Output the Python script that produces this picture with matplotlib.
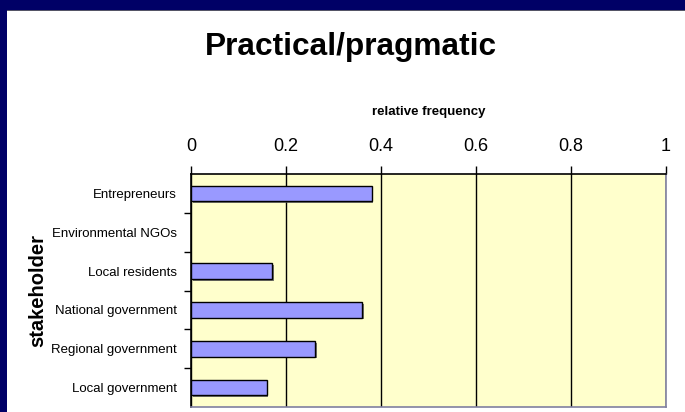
import matplotlib
matplotlib.use('Agg')
import matplotlib.pyplot as plt
import matplotlib.patheffects as pe
from matplotlib.patches import Rectangle

# data (top to bottom)
stakeholders = ['Entrepreneurs', 'Environmental NGOs', 'Local residents',
                'National government', 'Regional government', 'Local government']
rel_freq = [0.38, 0.0, 0.171, 0.36, 0.261, 0.159]
xticks = [0, 0.2, 0.4, 0.6, 0.8, 1]
xtick_labels = ['0', '0.2', '0.4', '0.6', '0.8', '1']

plt.rcParams['font.family'] = ['Liberation Sans', 'DejaVu Sans']

W, H = 685, 412
fig = plt.figure(figsize=(W / 100, H / 100), dpi=100)
fig.patch.set_facecolor('white')

# navy frame on top and left
fig.patches.append(Rectangle((0, 1 - 10 / H), 1, 10 / H, transform=fig.transFigure,
                             facecolor='#000066', edgecolor='none', zorder=0))
fig.patches.append(Rectangle((0, 1 - 11 / H), 1, 1 / H, transform=fig.transFigure,
                             facecolor='#555566', edgecolor='none', zorder=0))
fig.patches.append(Rectangle((0, 0), 7 / W, 1, transform=fig.transFigure,
                             facecolor='#000066', edgecolor='none', zorder=0))

ax = fig.add_axes([191 / W, 5 / H, 475 / W, 233 / H])
ax.set_facecolor('#FFFFCC')

pos = list(range(len(stakeholders)))
lw = [1.0 if v > 0 else 0 for v in rel_freq]
ax.barh(pos, rel_freq, height=0.4, color='#9999FF', edgecolor='black', linewidth=lw,
        zorder=3, path_effects=[pe.SimplePatchShadow(offset=(1.2, -1.2), shadow_rgbFace='#555555', alpha=0.8),
                                pe.Normal()])

ax.set_xlim(0, 1)
ax.set_ylim(len(stakeholders) - 0.5, -0.5)
ax.xaxis.tick_top()
ax.xaxis.set_label_position('top')
ax.set_xticks(xticks)
ax.set_xticklabels(xtick_labels, fontsize=13)
ax.tick_params(axis='x', length=6, width=1, pad=8, color='black')
ax.grid(axis='x', color='black', linewidth=1, zorder=1)

ax.set_yticks(pos)
ax.set_yticklabels(stakeholders, fontsize=9.5)
ax.set_yticks([p + 0.5 for p in pos[:-1]], minor=True)
ax.tick_params(axis='y', which='major', length=0, pad=10)
ax.tick_params(axis='y', which='minor', length=5, width=1, color='black')

ax.set_xlabel('relative frequency', fontsize=9.5, fontweight='bold', labelpad=16)
ax.set_ylabel('stakeholder', fontsize=14.5, fontweight='bold')
ax.yaxis.set_label_coords(-0.302, 0.5)

ax.spines['top'].set_color('black')
ax.spines['left'].set_color('black')
ax.spines['right'].set_color('#8080A0')
ax.spines['bottom'].set_color('#8080A0')
for s in ax.spines.values():
    s.set_linewidth(1.2)

fig.text(351 / W, 1 - 47 / H, 'Practical/pragmatic', fontsize=22.8, fontweight='bold',
         ha='center', va='center')

fig.savefig('out.png', dpi=100, facecolor=fig.get_facecolor())
